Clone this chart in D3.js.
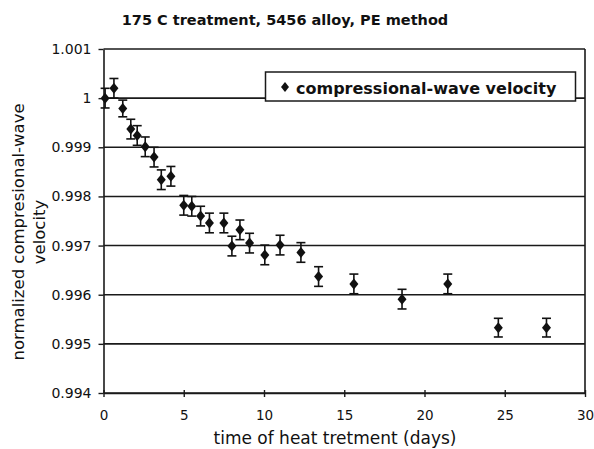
<!DOCTYPE html>
<html>
<head>
<meta charset="utf-8">
<script src="https://cdn.jsdelivr.net/npm/d3@7"></script>
<style>
  body { margin: 0; background: #fff; }
  svg { display: block; }
  text { font-family: "DejaVu Sans", Verdana, sans-serif; fill: #111; }
</style>
</head>
<body>
<div id="chart"></div>
<script>
// data
var days = [0.1, 0.65, 1.2, 1.7, 2.1, 2.6, 3.15, 3.6, 4.2, 5.0, 5.5, 6.05, 6.6,
  7.5, 8.0, 8.5, 9.1, 10.05, 11.0, 12.3, 13.4, 15.6, 18.6, 21.45, 24.6, 27.6];
var velocity = [1.0, 1.0002, 0.99979, 0.99937, 0.99924, 0.99901, 0.9988, 0.99834,
  0.99841, 0.99782, 0.9978, 0.9976, 0.99746, 0.99746, 0.99699, 0.99732, 0.99705,
  0.99681, 0.99701, 0.99686, 0.99637, 0.99622, 0.99591, 0.99622, 0.99533, 0.99533];
var errorBar = [0.0002, 0.0002, 0.00017, 0.0002, 0.0002, 0.0002, 0.0002, 0.0002,
  0.0002, 0.0002, 0.0002, 0.0002, 0.0002, 0.0002, 0.0002, 0.0002, 0.0002,
  0.0002, 0.0002, 0.0002, 0.0002, 0.0002, 0.0002, 0.0002, 0.00019, 0.00019];
var xTicks = [0, 5, 10, 15, 20, 25, 30];
var yTicks = [0.994, 0.995, 0.996, 0.997, 0.998, 0.999, 1, 1.001];
var yTickLabels = ['0.994', '0.995', '0.996', '0.997', '0.998', '0.999', '1', '1.001'];

var title = '175 C treatment, 5456 alloy, PE method';
var xTitle = 'time of heat tretment (days)';
var yTitle = ['normalized compresional-wave', 'velocity'];
var legendLabel = 'compressional-wave velocity';

var width = 594;
var height = 449;
var margin = { top: 49, right: 9, bottom: 56, left: 103.5 };
var lineColor = '#1a1a1a';

var svg = d3.select('#chart').append('svg')
  .attr('width', width)
  .attr('height', height);

var x = d3.scaleLinear()
  .domain([0, 30])
  .range([margin.left, width - margin.right]);
var y = d3.scaleLinear()
  .domain([0.994, 1.001])
  .range([height - margin.bottom, margin.top]);

var points = days.map(function (d, i) {
  return { day: d, v: velocity[i], err: errorBar[i] };
});

// gridlines
svg.append('g')
  .selectAll('line')
  .data(yTicks)
  .enter()
  .append('line')
  .attr('x1', x(0))
  .attr('x2', x(30))
  .attr('y1', function (d) { return y(d); })
  .attr('y2', function (d) { return y(d); })
  .style('stroke', lineColor)
  .style('stroke-width', 1.6);

// right border
svg.append('line')
  .attr('x1', x(30)).attr('x2', x(30))
  .attr('y1', y(1.001)).attr('y2', y(0.994))
  .style('stroke', lineColor)
  .style('stroke-width', 1.6);

// axes
var xAxis = svg.append('g')
  .attr('transform', 'translate(0,' + y(0.994) + ')')
  .call(d3.axisBottom(x).tickValues(xTicks).tickSizeInner(4).tickSizeOuter(0).tickPadding(13));
var yAxis = svg.append('g')
  .attr('transform', 'translate(' + x(0) + ',0)')
  .call(d3.axisLeft(y).tickValues(yTicks).tickSizeOuter(0).tickSizeInner(5).tickPadding(7)
    .tickFormat(function (d, i) { return yTickLabels[i]; }));

[xAxis, yAxis].forEach(function (ax) {
  ax.select('.domain').style('stroke', lineColor).style('stroke-width', 1.6);
  ax.selectAll('.tick line').style('stroke', lineColor).style('stroke-width', 1.4);
  ax.selectAll('.tick text')
    .style('font-family', '"DejaVu Sans", Verdana, sans-serif')
    .style('fill', '#111');
});
xAxis.selectAll('.tick text').style('font-size', '13.5px');
yAxis.selectAll('.tick text').style('font-size', '14px');
// x ticks cross the axis line
xAxis.selectAll('.tick line').attr('y1', -3);

// legend
var legend = svg.append('g');
legend.append('rect')
  .attr('x', 265.5)
  .attr('y', 72)
  .attr('width', 310)
  .attr('height', 29)
  .style('fill', '#fff')
  .style('stroke', lineColor)
  .style('stroke-width', 1.5);
legend.append('path')
  .attr('transform', 'translate(285,87)')
  .attr('d', 'M0,-5L4,0L0,5L-4,0Z')
  .style('fill', '#111');
legend.append('text')
  .attr('x', 296)
  .attr('y', 94)
  .style('font-size', '16px')
  .style('font-weight', 'bold')
  .text(legendLabel);

// error bars
var bars = svg.append('g')
  .selectAll('g')
  .data(points)
  .enter()
  .append('g')
  .style('stroke', '#111')
  .style('stroke-width', 1.6);
bars.append('line')
  .attr('x1', function (d) { return x(d.day); })
  .attr('x2', function (d) { return x(d.day); })
  .attr('y1', function (d) { return y(d.v + d.err); })
  .attr('y2', function (d) { return y(d.v - d.err); });
bars.append('line')
  .attr('x1', function (d) { return x(d.day) - 4.5; })
  .attr('x2', function (d) { return x(d.day) + 4.5; })
  .attr('y1', function (d) { return y(d.v + d.err); })
  .attr('y2', function (d) { return y(d.v + d.err); });
bars.append('line')
  .attr('x1', function (d) { return x(d.day) - 4.5; })
  .attr('x2', function (d) { return x(d.day) + 4.5; })
  .attr('y1', function (d) { return y(d.v - d.err); })
  .attr('y2', function (d) { return y(d.v - d.err); });

// diamond markers
svg.append('g')
  .selectAll('path')
  .data(points)
  .enter()
  .append('path')
  .attr('transform', function (d) { return 'translate(' + x(d.day) + ',' + y(d.v) + ')'; })
  .attr('d', 'M0,-5.5L4.5,0L0,5.5L-4.5,0Z')
  .style('fill', '#111');

// titles
svg.append('text')
  .attr('x', 285)
  .attr('y', 25)
  .attr('text-anchor', 'middle')
  .style('font-size', '14.5px')
  .style('font-weight', 'bold')
  .text(title);

svg.append('text')
  .attr('x', 335)
  .attr('y', 444)
  .attr('text-anchor', 'middle')
  .style('font-size', '17px')
  .text(xTitle);

var yt = svg.append('text')
  .attr('transform', 'translate(24,232) rotate(-90)')
  .attr('text-anchor', 'middle')
  .style('font-size', '16.5px');
yt.selectAll('tspan')
  .data(yTitle)
  .enter()
  .append('tspan')
  .attr('x', 0)
  .attr('dy', function (d, i) { return i === 0 ? 0 : 21; })
  .text(function (d) { return d; });
</script>
</body>
</html>
